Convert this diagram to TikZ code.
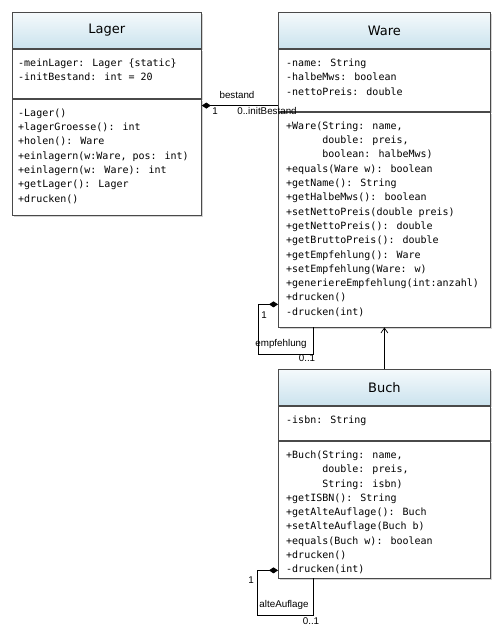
\documentclass[tikz,border=0pt]{standalone}
\usepackage{fontspec}
\setmainfont{DejaVu Sans}
\newfontfamily\memberfont{DejaVu Sans Mono}
\newfontfamily\labelfont{Liberation Sans}
\usetikzlibrary{arrows.meta,positioning,shadows}
\definecolor{headblue}{HTML}{CBE3EE}
\definecolor{boxline}{HTML}{4A4A4A}
\begin{document}
\begin{tikzpicture}[x=1pt,y=-1pt]

\tikzset{classpart/.style={draw=boxline,fill=white,inner sep=0pt,line width=0.8pt,
    drop shadow={shadow xshift=2pt,shadow yshift=-2pt,opacity=0.35}}}
\tikzset{classhead/.style={classpart,top color=headblue!20,bottom color=headblue,
    minimum height=36pt,font=\fontsize{13}{15}\selectfont}}
\tikzset{members/.style={anchor=north west,align=left,inner xsep=6pt,inner ysep=10pt,
    font=\memberfont\fontsize{10}{14.3}\selectfont}}
\tikzset{rolle/.style={inner sep=1pt,font=\labelfont\fontsize{9.8}{11}\selectfont}}
\tikzset{verbindung/.style={line width=0.7pt}}

\useasboundingbox (0,0) rectangle (502,631);

% Lager
\node[classhead,minimum width=189pt,anchor=north west] (lagerHead) at (12,12) {Lager};
\node[classpart,minimum width=189pt,minimum height=49pt,below=0pt of lagerHead] (lagerAttr) {};
\node[classpart,minimum width=189pt,minimum height=116pt,below=0pt of lagerAttr] (lagerMeth) {};
\node[members] (lagerAttrText) at (lagerAttr.north west) {-meinLager: Lager \{static\}\\-initBestand: int = 20};
\node[members] (lagerMethText) at (lagerMeth.north west) {-Lager()\\+lagerGroesse(): int\\+holen(): Ware\\+einlagern(w:Ware, pos: int)\\+einlagern(w: Ware): int\\+getLager(): Lager\\+drucken()};

% Ware
\node[classhead,minimum width=212pt,anchor=north west] (wareHead) at (278,12) {Ware};
\node[classpart,minimum width=212pt,minimum height=62pt,below=0pt of wareHead] (wareAttr) {};
\node[classpart,minimum width=212pt,minimum height=215pt,below=0pt of wareAttr] (wareMeth) {};
\node[members,inner xsep=8pt] (wareAttrText) at (wareAttr.north west) {-name: String\\-halbeMws: boolean\\-nettoPreis: double};
\node[members,inner xsep=8pt] (wareMethText) at (wareMeth.north west) {+Ware(String: name,\\\phantom{+Ware(}double: preis,\\\phantom{+Ware(}boolean: halbeMws)\\+equals(Ware w): boolean\\+getName(): String\\+getHalbeMws(): boolean\\+setNettoPreis(double preis)\\+getNettoPreis(): double\\+getBruttoPreis(): double\\+getEmpfehlung(): Ware\\+setEmpfehlung(Ware: w)\\+generiereEmpfehlung(int:anzahl)\\+drucken()\\-drucken(int)};

% Buch
\node[classhead,minimum width=212pt,anchor=north west] (buchHead) at (278,369) {Buch};
\node[classpart,minimum width=212pt,minimum height=34pt,below=0pt of buchHead] (buchAttr) {};
\node[classpart,minimum width=212pt,minimum height=137pt,below=0pt of buchAttr] (buchMeth) {};
\node[members,inner xsep=8pt] (buchAttrText) at (buchAttr.north west) {-isbn: String};
\node[members,inner xsep=8pt] (buchMethText) at (buchMeth.north west) {+Buch(String: name,\\\phantom{+Buch(}double: preis,\\\phantom{+Buch(}String: isbn)\\+getISBN(): String\\+getAlteAuflage(): Buch\\+setAlteAuflage(Buch b)\\+equals(Buch w): boolean\\+drucken()\\-drucken(int)};

% bestand
\coordinate (bestandA) at ([yshift=-7pt]lagerAttr.south east);
\draw[verbindung,{Diamond[length=9pt,width=6pt]}-] (bestandA) -- (bestandA -| wareAttr.west);
\node[rolle] (bestandName) at (237,95) {bestand};
\node[rolle] (bestandEins) at (215,111) {1};
\node[rolle] (bestandViele) at (267,111) {0..initBestand};

% empfehlung
\coordinate (empfA) at ([yshift=23pt]wareMeth.south west);
\coordinate (empfB) at ([xshift=35pt]wareMeth.south west);
\draw[verbindung,{Diamond[length=9pt,width=6pt]}-] (empfA) -- ++(-20,0) |- ([yshift=-27pt]empfB) -- (empfB);
\node[rolle] (empfEins) at (264,315) {1};
\node[rolle] (empfName) at (281,344) {empfehlung};
\node[rolle] (empfViele) at (307,358) {0..1};

% Vererbung
\draw[verbindung,-{Straight Barb[length=5pt,width=7pt]}] (buchHead.north) -- (wareMeth.south);

% alteAuflage
\coordinate (alteA) at ([yshift=8pt]buchMeth.south west);
\coordinate (alteB) at ([xshift=35pt]buchMeth.south west);
\draw[verbindung,{Diamond[length=9pt,width=6pt]}-] (alteA) -- ++(-21,0) |- ([yshift=-37pt]alteB) -- (alteB);
\node[rolle] (alteEins) at (251,580) {1};
\node[rolle] (alteName) at (284,605) {alteAuflage};
\node[rolle] (alteViele) at (311,621) {0..1};

\end{tikzpicture}
\end{document}
